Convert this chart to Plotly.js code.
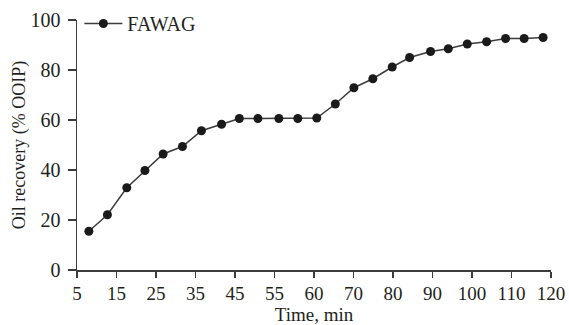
<!DOCTYPE html>
<html>
<head>
<meta charset="utf-8">
<script src="https://cdn.plot.ly/plotly-3.0.1.min.js"></script>
<style>html,body{margin:0;padding:0;background:#fff;}#chart{width:569px;height:325px;}</style>
</head>
<body>
<div id="chart"></div>
<script>
// Tick labels of the (non-uniform) time axis, placed at equally spaced tick slots 0..12
const timeTickLabels = ["5","15","25","35","45","55","60","70","80","90","100","110","120"];
// Position of each sample along the tick-slot axis
const samplePos = [0.30,0.77,1.26,1.72,2.18,2.67,3.15,3.66,4.11,4.58,5.11,5.59,6.07,6.54,7.01,7.49,7.98,8.42,8.95,9.40,9.88,10.37,10.85,11.32,11.80];
// Oil recovery (% OOIP) for FAWAG
const fawagRecovery = [15.5,22.1,32.9,39.8,46.4,49.4,55.7,58.3,60.6,60.6,60.6,60.6,60.8,66.4,72.9,76.5,81.2,85.0,87.4,88.5,90.4,91.3,92.6,92.6,93.0];
const yTicks = [0,20,40,60,80,100];

const fam = "Liberation Serif, Times New Roman, serif";
const ink = "#231f20";

Plotly.newPlot("chart", [{
  x: samplePos,
  y: fawagRecovery,
  name: "FAWAG",
  type: "scatter",
  mode: "lines+markers",
  line: {color: "#3c3c3c", width: 1.5},
  marker: {color: "#1a1a1a", size: 9}
}], {
  width: 569, height: 325,
  margin: {l: 77, r: 18, t: 19.5, b: 55, autoexpand: false},
  paper_bgcolor: "#fff", plot_bgcolor: "#fff",
  font: {family: fam, size: 20, color: ink},
  showlegend: true,
  legend: {x: 0.005, y: 1.064, xanchor: "left", yanchor: "top", itemwidth: 38,
           bgcolor: "rgba(0,0,0,0)", font: {family: fam, size: 20, color: ink}},
  xaxis: {
    range: [0, 12], tickmode: "array",
    tickvals: timeTickLabels.map((_, i) => i), ticktext: timeTickLabels,
    tickfont: {family: fam, size: 19, color: ink},
    showline: true, linecolor: "#3c3c3c", linewidth: 1.5,
    ticks: "outside", ticklen: 6, tickwidth: 1.5, tickcolor: "#3c3c3c",
    showgrid: false, zeroline: false,
    title: {text: "Time, min", font: {family: fam, size: 19, color: ink}, standoff: 9}
  },
  yaxis: {
    range: [0, 100], tickmode: "array", tickvals: yTicks,
    tickfont: {family: fam, size: 20, color: ink}, ticklabelstandoff: 3,
    showline: true, linecolor: "#3c3c3c", linewidth: 1.5,
    ticks: "outside", ticklen: 8, tickwidth: 1.5, tickcolor: "#3c3c3c",
    showgrid: false, zeroline: false,
    title: {text: "Oil recovery (% OOIP)", font: {family: fam, size: 18, color: ink}, standoff: 0}
  }
}, {displayModeBar: false, staticPlot: true});
</script>
</body>
</html>
